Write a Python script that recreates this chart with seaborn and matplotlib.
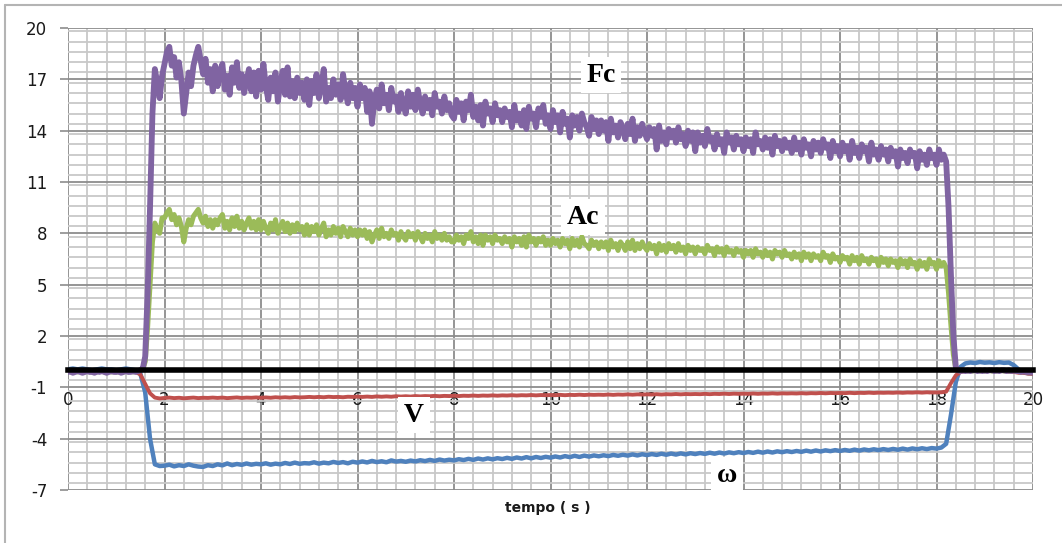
import numpy as np
import pandas as pd
import matplotlib
matplotlib.use("Agg")
import matplotlib.pyplot as plt
from matplotlib.ticker import MultipleLocator
from matplotlib.lines import Line2D
import seaborn as sns

# Sampling instants (s): force/acceleration logged every 0.05 s, velocities every 0.1 s
tempo_rapido = np.round(np.arange(401) * 0.05, 2)
tempo = np.round(np.arange(201) * 0.1, 1)

# Angular velocity (omega), 0.1 s step
omega = [
    0.05, 0.10, 0.05, 0.10, 0.05, 0.00, 0.05, 0.10, 0.05, 0.05,
    0.00, 0.05, 0.10, 0.05, 0.00, -0.2, -1.3, -4.0, -5.5, -5.6,
    -5.58, -5.52, -5.62, -5.55, -5.60, -5.50, -5.58, -5.63, -5.65, -5.55,
    -5.60, -5.50, -5.56, -5.45, -5.55, -5.48, -5.53, -5.45, -5.52, -5.47,
    -5.50, -5.44, -5.52, -5.46, -5.50, -5.42, -5.48, -5.40, -5.47, -5.43,
    -5.45, -5.38, -5.46, -5.40, -5.44, -5.36, -5.42, -5.37, -5.44, -5.35,
    -5.40, -5.33, -5.39, -5.30, -5.37, -5.32, -5.38, -5.27, -5.34, -5.30,
    -5.35, -5.28, -5.33, -5.26, -5.31, -5.24, -5.30, -5.22, -5.28, -5.23,
    -5.27, -5.20, -5.25, -5.18, -5.24, -5.16, -5.22, -5.15, -5.21, -5.14,
    -5.19, -5.12, -5.18, -5.10, -5.16, -5.08, -5.15, -5.07, -5.13, -5.06,
    -5.11, -5.04, -5.10, -5.02, -5.08, -5.00, -5.07, -4.99, -5.05, -4.98,
    -5.03, -4.97, -5.02, -4.95, -5.00, -4.94, -4.99, -4.92, -4.98, -4.91,
    -4.96, -4.90, -4.95, -4.88, -4.94, -4.87, -4.93, -4.86, -4.92, -4.85,
    -4.90, -4.84, -4.89, -4.82, -4.88, -4.81, -4.87, -4.80, -4.85, -4.79,
    -4.84, -4.78, -4.83, -4.76, -4.82, -4.75, -4.81, -4.74, -4.79, -4.73,
    -4.78, -4.72, -4.77, -4.70, -4.76, -4.69, -4.75, -4.68, -4.73, -4.67,
    -4.72, -4.66, -4.71, -4.64, -4.70, -4.63, -4.68, -4.62, -4.67, -4.61,
    -4.66, -4.60, -4.65, -4.58, -4.64, -4.57, -4.62, -4.56, -4.61, -4.55,
    -4.58, -4.52, -4.30, -2.60, -0.70, 0.20, 0.40, 0.45, 0.42, 0.48,
    0.44, 0.46, 0.42, 0.47, 0.43, 0.45, 0.30, 0.05, -0.12, -0.18,
    -0.20,
]

# Linear velocity (V), 0.1 s step
v = [
    0.00, -0.05, 0.00, -0.05, -0.05, 0.00, -0.05, 0.00, -0.05, -0.05,
    0.00, -0.05, 0.00, -0.05, -0.10, -0.25, -0.80, -1.35, -1.60, -1.65,
    -1.62, -1.60, -1.63, -1.61, -1.64, -1.62, -1.60, -1.63, -1.61, -1.62,
    -1.60, -1.62, -1.60, -1.63, -1.61, -1.59, -1.62, -1.60, -1.61, -1.59,
    -1.61, -1.59, -1.61, -1.58, -1.60, -1.58, -1.60, -1.57, -1.59, -1.58,
    -1.56, -1.58, -1.56, -1.58, -1.55, -1.57, -1.56, -1.58, -1.55, -1.56,
    -1.54, -1.56, -1.54, -1.56, -1.53, -1.55, -1.53, -1.55, -1.52, -1.54,
    -1.52, -1.54, -1.51, -1.53, -1.51, -1.52, -1.50, -1.52, -1.50, -1.51,
    -1.49, -1.51, -1.49, -1.50, -1.48, -1.50, -1.48, -1.49, -1.47, -1.49,
    -1.47, -1.48, -1.46, -1.48, -1.46, -1.47, -1.45, -1.47, -1.45, -1.46,
    -1.45, -1.46, -1.44, -1.46, -1.44, -1.45, -1.43, -1.45, -1.43, -1.44,
    -1.43, -1.44, -1.42, -1.44, -1.42, -1.43, -1.41, -1.43, -1.41, -1.42,
    -1.41, -1.42, -1.40, -1.42, -1.40, -1.41, -1.39, -1.41, -1.39, -1.40,
    -1.39, -1.40, -1.38, -1.40, -1.38, -1.39, -1.37, -1.39, -1.37, -1.38,
    -1.37, -1.38, -1.36, -1.38, -1.36, -1.37, -1.35, -1.37, -1.35, -1.36,
    -1.35, -1.36, -1.34, -1.36, -1.34, -1.35, -1.33, -1.35, -1.33, -1.34,
    -1.33, -1.34, -1.32, -1.34, -1.32, -1.33, -1.31, -1.33, -1.31, -1.32,
    -1.31, -1.32, -1.30, -1.32, -1.30, -1.31, -1.29, -1.31, -1.29, -1.30,
    -1.30, -1.29, -1.25, -0.75, -0.30, -0.10, -0.05, -0.05, -0.05, -0.05,
    -0.05, -0.05, -0.05, -0.05, -0.05, -0.10, -0.10, -0.15, -0.15, -0.20,
    -0.20,
]

# Centripetal acceleration (Ac), 0.05 s step
ac_repouso = [-0.05, -0.10, -0.10, -0.05, -0.10, -0.05, -0.10, -0.10,
              -0.05, -0.10, -0.05, -0.10, -0.10, -0.05, -0.05, -0.10,
              -0.10, -0.05, -0.10, -0.05, -0.10, -0.10, -0.05, -0.10,
              -0.05, -0.10, -0.05, -0.10, -0.05, -0.05, 0.00, 0.05]
ac_subida = [0.5, 2.5, 5.0, 7.5, 8.6, 8.2, 8.0, 8.9]
ac_ativo = [
    8.9, 9.2, 9.4, 8.8, 9.1, 8.5, 8.9, 8.4, 7.5, 8.3, 8.8, 8.5, 9.0, 9.2, 9.4, 8.9, 8.6, 9.0, 8.4, 8.8,
    8.3, 8.8, 8.5, 8.9, 9.1, 8.3, 8.7, 8.2, 8.9, 8.4, 9.0, 8.3, 8.7, 8.2, 8.6, 8.9, 8.3, 8.7, 8.2, 8.8,
    8.2, 8.7, 8.3, 8.0, 8.6, 8.2, 8.8, 8.0, 8.4, 8.7, 8.1, 8.6, 8.0, 8.5, 8.1, 8.6, 8.2, 8.4, 7.9, 8.5,
    7.9, 8.4, 8.1, 8.5, 7.9, 8.3, 8.6, 7.8, 8.2, 7.9, 8.4, 8.0, 8.3, 7.8, 8.4, 8.1, 7.8, 8.3, 7.9, 8.2,
    7.8, 8.2, 7.9, 8.2, 7.7, 8.1, 7.5, 7.9, 8.2, 7.7, 8.3, 7.8, 8.0, 7.7, 8.2, 7.9, 8.0, 7.6, 8.1, 7.8,
    7.6, 8.1, 7.8, 8.0, 7.6, 8.1, 7.8, 7.5, 8.0, 7.7, 7.9, 7.5, 8.1, 7.7, 7.9, 7.6, 8.0, 7.6, 7.8, 7.5,
    7.5, 7.9, 7.6, 7.8, 7.4, 7.9, 7.7, 8.1, 7.5, 7.8, 7.4, 7.9, 7.3, 7.9, 7.6, 7.8, 7.4, 7.9, 7.6, 7.7,
    7.4, 7.8, 7.5, 7.7, 7.2, 7.8, 7.5, 7.7, 7.3, 7.8, 7.2, 7.9, 7.5, 7.7, 7.3, 7.7, 7.5, 7.8, 7.3, 7.6,
    7.3, 7.7, 7.4, 7.6, 7.2, 7.7, 7.4, 7.6, 7.1, 7.7, 7.3, 7.6, 7.2, 7.8, 7.4, 7.3, 7.1, 7.6, 7.3, 7.5,
    7.1, 7.5, 7.2, 7.5, 7.0, 7.6, 7.2, 7.4, 7.0, 7.5, 7.3, 7.0, 7.5, 7.1, 7.6, 7.0, 7.4, 7.1, 7.5, 7.2,
    7.0, 7.4, 7.1, 7.3, 6.8, 7.4, 7.0, 7.3, 6.9, 7.4, 7.1, 7.3, 6.9, 7.4, 7.0, 7.2, 6.8, 7.3, 7.0, 7.2,
    6.8, 7.2, 7.0, 7.1, 6.8, 7.3, 7.0, 7.1, 6.7, 7.2, 6.9, 7.1, 6.7, 7.2, 6.9, 7.0, 6.7, 7.1, 6.9, 7.0,
    6.6, 7.0, 6.8, 7.0, 6.6, 7.1, 6.8, 6.9, 6.6, 7.0, 6.7, 6.9, 6.5, 7.0, 6.8, 6.9, 6.6, 7.0, 6.7, 6.8,
    6.5, 6.9, 6.6, 6.8, 6.4, 6.9, 6.6, 6.8, 6.4, 6.8, 6.6, 6.7, 6.4, 6.9, 6.6, 6.7, 6.3, 6.8, 6.5, 6.6,
    6.3, 6.7, 6.5, 6.6, 6.2, 6.7, 6.4, 6.6, 6.2, 6.7, 6.4, 6.5, 6.2, 6.6, 6.4, 6.5, 6.1, 6.6, 6.3, 6.5,
    6.1, 6.5, 6.3, 6.4, 6.0, 6.5, 6.2, 6.4, 6.0, 6.5, 6.2, 6.3, 5.9, 6.4, 6.1, 6.3, 5.9, 6.5, 6.2, 6.3,
    5.9, 6.4, 6.1, 6.3, 6.0,
]
ac_descida = [4.5, 2.6, 0.9, 0.1]
ac_final = [0.00, -0.05, 0.00, 0.00, -0.05, 0.00, -0.05, 0.00,
            0.00, -0.05, 0.00, -0.05, 0.00, 0.00, -0.05, 0.00,
            -0.05, 0.00, 0.00, -0.05, 0.00, -0.05, -0.05, 0.00,
            -0.05, -0.05, -0.10, -0.05, -0.10, -0.10, -0.10, -0.10]

# Centripetal force (Fc), 0.05 s step
fc_repouso = [-0.10, -0.05, -0.15, -0.10, -0.05, -0.10, -0.15, -0.10,
              -0.05, -0.10, -0.10, -0.15, -0.05, -0.10, -0.05, -0.10,
              -0.15, -0.10, -0.05, -0.10, -0.10, -0.05, -0.15, -0.10,
              -0.05, -0.10, -0.10, -0.05, -0.10, -0.05, 0.00, 0.10]
fc_subida = [0.8, 4.5, 9.5, 15.0, 17.6, 16.8, 15.9, 17.2]
fc_ativo = [
    17.9, 18.6, 18.9, 17.8, 18.3, 17.1, 18.0, 16.9, 15.0, 16.2, 17.4, 16.6, 17.8, 18.4, 18.9, 18.1, 17.3, 18.2, 16.8, 17.6,
    16.3, 17.8, 16.6, 17.5, 17.9, 16.4, 17.2, 16.1, 17.7, 16.8, 18.0, 16.5, 17.3, 16.2, 16.9, 17.6, 16.3, 17.4, 16.0, 17.5,
    16.4, 17.9, 16.6, 15.8, 17.1, 16.3, 17.4, 15.7, 16.8, 17.5, 16.1, 17.7, 16.0, 16.9, 15.9, 17.1, 16.2, 16.8, 15.8, 17.0,
    15.5, 16.9, 16.2, 17.3, 15.9, 16.6, 17.6, 15.7, 16.5, 15.9, 17.0, 16.1, 16.7, 15.8, 17.3, 16.3, 15.6, 16.8, 15.9, 16.5,
    15.4, 16.7, 15.9, 16.5, 15.1, 16.3, 14.4, 15.8, 16.4, 15.3, 16.7, 15.6, 16.1, 15.2, 16.5, 15.7, 16.0, 15.1, 16.2, 15.5,
    15.0, 16.3, 15.4, 16.1, 15.2, 16.4, 15.6, 15.0, 16.0, 15.3, 15.8, 14.9, 16.2, 15.4, 15.7, 15.0, 16.0, 15.2, 15.6, 14.9,
    14.7, 15.8, 15.1, 15.6, 14.6, 15.7, 15.2, 16.1, 14.8, 15.4, 14.6, 15.5, 14.3, 15.7, 15.0, 15.3, 14.5, 15.6, 14.9, 15.2,
    14.5, 15.3, 14.8, 15.1, 14.2, 15.5, 14.6, 15.0, 14.3, 15.2, 14.1, 15.4, 14.7, 15.0, 14.2, 15.3, 14.8, 15.5, 14.4, 14.9,
    14.1, 15.2, 14.5, 14.9, 13.9, 15.1, 14.4, 14.7, 13.6, 14.9, 14.3, 14.8, 14.0, 15.0, 14.5, 14.2, 13.7, 14.8, 14.1, 14.6,
    13.8, 14.6, 14.0, 14.5, 13.4, 14.7, 13.9, 14.3, 13.6, 14.5, 14.1, 13.5, 14.4, 13.8, 14.7, 13.4, 14.2, 13.7, 14.4, 13.9,
    13.5, 14.2, 13.7, 14.1, 12.9, 14.3, 13.4, 13.9, 13.2, 14.1, 13.6, 14.0, 13.3, 14.2, 13.5, 13.8, 13.1, 14.0, 13.4, 13.9,
    12.8, 13.9, 13.3, 13.7, 13.1, 14.1, 13.4, 13.6, 12.9, 13.8, 13.2, 13.5, 12.7, 13.9, 13.3, 13.6, 12.9, 13.7, 13.2, 13.5,
    12.8, 13.6, 13.1, 13.5, 12.7, 13.9, 13.2, 13.4, 12.9, 13.6, 13.0, 13.5, 12.6, 13.7, 13.1, 13.4, 12.8, 13.5, 13.0, 13.3,
    12.7, 13.6, 12.9, 13.3, 12.6, 13.5, 13.0, 13.2, 12.5, 13.4, 12.9, 13.3, 12.7, 13.5, 13.0, 13.2, 12.4, 13.4, 12.8, 13.1,
    12.5, 13.3, 12.8, 13.1, 12.3, 13.4, 12.7, 13.0, 12.4, 13.2, 12.8, 13.0, 12.2, 13.3, 12.6, 12.9, 12.3, 13.1, 12.6, 12.9,
    12.2, 13.0, 12.5, 12.8, 11.9, 12.9, 12.4, 12.7, 12.1, 12.9, 12.5, 12.7, 11.8, 12.8, 12.3, 12.6, 12.0, 12.9, 12.4, 12.6,
    12.0, 12.9, 12.3, 12.6, 12.2,
]
fc_descida = [9.5, 5.5, 2.0, 0.2]
fc_final = [0.00, -0.05, 0.00, -0.05, 0.00, -0.05, 0.00, 0.00,
            -0.05, 0.00, -0.05, 0.00, -0.05, 0.00, 0.00, -0.05,
            0.00, -0.05, 0.00, 0.00, -0.05, 0.00, -0.05, 0.00,
            -0.05, -0.05, -0.10, -0.05, -0.10, -0.10, -0.10, -0.10]

ac = ac_repouso + ac_subida + ac_ativo + ac_descida + ac_final
fc = fc_repouso + fc_subida + fc_ativo + fc_descida + fc_final

series_names = ["ω", "V", "Ac", "Fc"]
series_time = {"ω": tempo, "V": tempo, "Ac": tempo_rapido, "Fc": tempo_rapido}
series_values = {"ω": omega, "V": v, "Ac": ac, "Fc": fc}
series_colors = {"ω": "#4F81BD", "V": "#C0504D", "Ac": "#9BBB59", "Fc": "#8064A2"}
series_widths = {"ω": 3.2, "V": 2.8, "Ac": 3.6, "Fc": 4.2}

# Anchors for the in-plot series names (data coordinates)
label_pos = {"Fc": (11.05, 17.25), "Ac": (10.67, 8.95), "V": (7.17, -2.62), "ω": (13.66, -6.15)}

x_ticks = list(range(0, 21, 2))
y_ticks = list(range(-7, 21, 3))

df = pd.concat(
    [pd.DataFrame({"tempo": series_time[name], "valor": series_values[name], "serie": name})
     for name in series_names],
    ignore_index=True,
)

sns.set_theme(style="white")
plt.rcParams["font.family"] = ["DejaVu Sans"]
plt.rcParams["axes.unicode_minus"] = False

fig = plt.figure(figsize=(10.62, 5.43), dpi=100)
ax = fig.add_axes([68 / 1062, 1 - 490 / 543, (1033 - 68) / 1062, (490 - 28) / 543])
ax.set_facecolor("white")

for name in series_names:
    sns.lineplot(
        data=df[df["serie"] == name], x="tempo", y="valor",
        color=series_colors[name], linewidth=series_widths[name],
        estimator=None, sort=False, legend=False, ax=ax, zorder=2,
    )

ax.set_xlim(0, 20)
ax.set_ylim(-7, 20)
ax.set_xticks(x_ticks)
ax.set_yticks(y_ticks)
ax.xaxis.set_minor_locator(MultipleLocator(0.4))
ax.yaxis.set_minor_locator(MultipleLocator(0.6))
ax.set_axisbelow(True)
ax.grid(which="minor", color="#c8c8c8", linewidth=1.3)
ax.grid(which="major", color="#8c8c8c", linewidth=1.3)

for side in ["top", "right", "left"]:
    ax.spines[side].set_visible(False)
ax.spines["bottom"].set_position(("data", 0))
ax.spines["bottom"].set_color("black")
ax.spines["bottom"].set_linewidth(4)
ax.spines["bottom"].set_zorder(3)

ax.tick_params(axis="x", which="both", length=0, pad=15, labelsize=12, labelcolor="#1a1a1a")
ax.tick_params(axis="y", which="major", length=6, width=1.2, color="#8c8c8c",
               pad=9, labelsize=12, labelcolor="#1a1a1a", left=True)
ax.tick_params(axis="y", which="minor", length=0)

ax.set_xlabel("")
ax.set_ylabel("")
fig.text(548 / 1062, 1 - 508 / 543, "tempo ( s )", ha="center", va="center",
         fontsize=10, fontweight="bold", color="#1a1a1a")

for name, (lx, ly) in label_pos.items():
    ax.text(lx, ly, name, ha="center", va="center", fontsize=20, fontweight="bold",
            family=["Liberation Serif", "DejaVu Serif"], color="black", zorder=5,
            bbox=dict(facecolor="white", edgecolor="none", pad=4))

# Outer chart-area frame
fig.add_artist(Line2D([5 / 1062, 1], [1 - 5 / 543, 1 - 5 / 543],
                      transform=fig.transFigure, color="#b4b4b4", linewidth=1.5))
fig.add_artist(Line2D([5 / 1062, 5 / 1062], [0, 1 - 5 / 543],
                      transform=fig.transFigure, color="#b4b4b4", linewidth=1.5))

fig.savefig("out.png", dpi=100, facecolor="white")
